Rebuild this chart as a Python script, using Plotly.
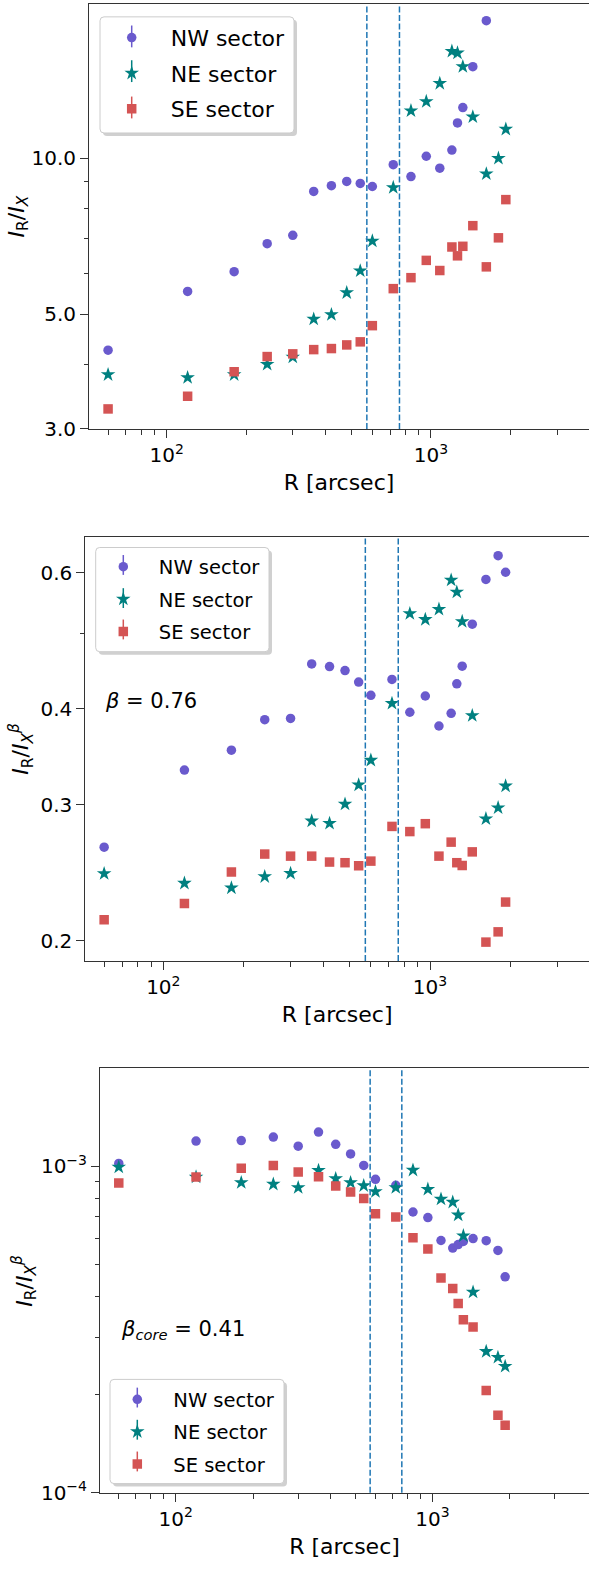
import plotly.graph_objects as go

W, H = 589, 1573

# ---------------- data ----------------
R = [60, 120, 180, 240, 300, 360, 420, 480, 540, 600, 720, 840, 960, 1080,
     1200, 1260, 1320, 1440, 1620, 1800, 1920]

# Panel 1: I_R / I_X
p1_NW = [4.26, 5.53, 6.04, 6.84, 7.10, 8.63, 8.85, 9.02, 8.94, 8.82, 9.72, 9.22,
         10.09, 9.57, 10.37, 11.70, 12.53, 15.03, 18.44, None, None]
p1_NE = [3.82, 3.77, 3.82, 4.00, 4.13, 4.89, 4.99, 5.50, 6.06, 6.92, 8.78, 12.35,
         12.87, 13.95, 16.09, 15.97, 15.03, 12.02, 9.33, 10.00, 11.38]
p1_SE = [3.28, 3.47, 3.87, 4.14, 4.19, 4.27, 4.29, 4.36, 4.42, 4.75, 5.60, 5.88,
         6.35, 6.07, 6.74, 6.48, 6.76, 7.41, 6.17, 7.02, 8.32]

# Panel 2: I_R / I_X^beta, beta = 0.76
p2_NW = [0.2645, 0.333, 0.3533, 0.387, 0.3885, 0.4572, 0.4535, 0.4482, 0.433, 0.4162,
         0.4364, 0.3957, 0.4154, 0.3798, 0.3945, 0.4308, 0.4541, 0.5148, 0.5883,
         0.6316, 0.6011]
p2_NE = [0.2444, 0.2375, 0.2342, 0.2422, 0.2446, 0.286, 0.284, 0.3008, 0.3185, 0.3429,
         0.4064, 0.5313, 0.522, 0.5382, 0.5871, 0.5665, 0.5188, 0.3918, 0.2879,
         0.2975, 0.3175]
p2_SE = [0.213, 0.2236, 0.2456, 0.2591, 0.2575, 0.2575, 0.253, 0.2525, 0.2502, 0.2537,
         0.2814, 0.2771, 0.2837, 0.2575, 0.2685, 0.2525, 0.2504, 0.2608, 0.1992,
         0.2054, 0.2245]

# Panel 3: I_R / I_X^beta_core, beta_core = 0.41
p3_NW = [1.021e-3, 1.196e-3, 1.200e-3, 1.230e-3, 1.153e-3, 1.274e-3, 1.169e-3,
         1.092e-3, 1.007e-3, 0.913e-3, 0.875e-3, 0.725e-3, 0.697e-3, 0.593e-3,
         0.562e-3, 0.576e-3, 0.589e-3, 0.601e-3, 0.592e-3, 0.553e-3, 0.459e-3]
p3_NE = [0.995e-3, 0.928e-3, 0.892e-3, 0.882e-3, 0.861e-3, 0.972e-3, 0.917e-3,
         0.892e-3, 0.873e-3, 0.837e-3, 0.861e-3, 0.974e-3, 0.851e-3, 0.794e-3,
         0.777e-3, 0.710e-3, 0.613e-3, 0.412e-3, 0.271e-3, 0.260e-3, 0.244e-3]
p3_SE = [0.890e-3, 0.928e-3, 0.988e-3, 1.007e-3, 0.961e-3, 0.930e-3, 0.871e-3,
         0.835e-3, 0.797e-3, 0.716e-3, 0.700e-3, 0.605e-3, 0.558e-3, 0.455e-3,
         0.423e-3, 0.380e-3, 0.339e-3, 0.322e-3, 0.206e-3, 0.173e-3, 0.161e-3]

R_lines = [572, 760]

series_names = ["NW sector", "NE sector", "SE sector"]
series_colors = ["#6a5acd", "#008080", "#d45454"]
series_symbols = ["circle", "star", "square"]
series_sizes = [9.5, 11, 9.5]

x_major = [100, 1000]
x_major_text = ["10<sup>2</sup>", "10<sup>3</sup>"]
x_minor = [60, 70, 80, 90, 200, 300, 400, 500, 600, 700, 800, 900, 2000, 3000]

p1_yticks = [3, 5, 10]
p1_ytext = ["3.0", "5.0", "10.0"]
p1_yminor = [4, 6, 7, 8, 9]
p2_yticks = [0.2, 0.3, 0.4, 0.6]
p2_ytext = ["0.2", "0.3", "0.4", "0.6"]
p2_yminor = [0.5]
p3_yticks = [1e-4, 1e-3]
p3_ytext = ["10<sup>\u22124</sup>", "10<sup>\u22123</sup>"]
p3_yminor = [2e-4, 3e-4, 4e-4, 5e-4, 6e-4, 7e-4, 8e-4, 9e-4]

FONT = "DejaVu Sans"

# panel geometry in pixels
panels = [
    dict(left=89.0, top=4.0, bottom=432.3, xr=[1.706, 3.598], yr=[0.4771, 1.298],
         data=[p1_NW, p1_NE, p1_SE], yt=p1_yticks, ytt=p1_ytext, ym=p1_yminor,
         ytitle="<i>I</i><sub>R</sub>/<i>I<sub>X</sub></i>", ytx=18,
         box=(100, 17, 294, 134), lfs=22, iw=68, gap=4, mk=131.7,
         items=[36.7, 71.7, 108.3], eh=11),
    dict(left=85.3, top=540.7, bottom=968.3, xr=[1.7075, 3.596], yr=[-0.7251, -0.1748],
         data=[p2_NW, p2_NE, p2_SE], yt=p2_yticks, ytt=p2_ytext, ym=p2_yminor,
         ytitle="<i>I</i><sub>R</sub>/<i>I<sub>X</sub><sup>\u03b2</sup></i>", ytx=21,
         box=(95.7, 551.7, 269, 656.7), lfs=19.5, iw=61, gap=4, mk=123.3,
         items=[569.3, 602.7, 634.3], eh=10),
    dict(left=100.0, top=1076.7, bottom=1504.3, xr=[1.705, 3.61], yr=[-4.0, -2.70],
         data=[p3_NW, p3_NE, p3_SE], yt=p3_yticks, ytt=p3_ytext, ym=p3_yminor,
         ytitle="<i>I</i><sub>R</sub>/<i>I<sub>X</sub><sup>\u03b2</sup></i>", ytx=24,
         box=(110, 1390, 284, 1495), lfs=19.5, iw=62, gap=4, mk=137.3,
         items=[1408.3, 1440.7, 1472.7], eh=10),
]


def px(x):
    return x / W


def py(y):
    return 1 - y / H


def rounded_rect(x0, y0, x1, y1, r):
    pts = [
        f"M{px(x0 + r)},{py(y0)}",
        f"L{px(x1 - r)},{py(y0)}",
        f"Q{px(x1)},{py(y0)} {px(x1)},{py(y0 + r)}",
        f"L{px(x1)},{py(y1 - r)}",
        f"Q{px(x1)},{py(y1)} {px(x1 - r)},{py(y1)}",
        f"L{px(x0 + r)},{py(y1)}",
        f"Q{px(x0)},{py(y1)} {px(x0)},{py(y1 - r)}",
        f"L{px(x0)},{py(y0 + r)}",
        f"Q{px(x0)},{py(y0)} {px(x0 + r)},{py(y0)}",
        "Z",
    ]
    return " ".join(pts)


fig = go.Figure()
layout = dict(
    width=W, height=H, margin=dict(l=0, r=0, t=0, b=0),
    paper_bgcolor="white", plot_bgcolor="white",
    font=dict(family=FONT, size=20, color="black"),
    shapes=[], annotations=[],
)

for i, p in enumerate(panels):
    k = "" if i == 0 else str(i + 1)
    xa, ya = "x" + k, "y" + k
    leg = "legend" + k
    for j in range(3):
        fig.add_trace(go.Scatter(
            x=R, y=p["data"][j], mode="markers", name=series_names[j],
            xaxis=xa, yaxis=ya, legend=leg, legendgroup=f"{leg}_{j}",
            marker=dict(symbol=series_symbols[j], size=series_sizes[j],
                        color=series_colors[j], line=dict(width=0)),
        ))
    layout["xaxis" + k] = dict(
        type="log", range=p["xr"], domain=[p["left"] / W, 1.0], anchor=ya,
        showline=True, linecolor="#333", linewidth=1, mirror=True,
        showgrid=False, zeroline=False,
        tickmode="array", tickvals=x_major, ticktext=x_major_text,
        ticks="outside", ticklen=8, tickwidth=1, tickcolor="#333",
        tickfont=dict(size=20, family=FONT),
        minor=dict(tickmode="array", tickvals=x_minor, ticks="outside",
                   ticklen=5, tickwidth=1, tickcolor="#333", showgrid=False),
        title=dict(text="R [arcsec]", font=dict(size=22, family=FONT), standoff=8),
    )
    layout["yaxis" + k] = dict(
        type="log", range=p["yr"],
        domain=[1 - p["bottom"] / H, 1 - p["top"] / H], anchor=xa,
        showline=True, linecolor="#333", linewidth=1, mirror=False,
        showgrid=False, zeroline=False,
        tickmode="array", tickvals=p["yt"], ticktext=p["ytt"],
        ticks="outside", ticklen=8, tickwidth=1, tickcolor="#333",
        tickfont=dict(size=20, family=FONT),
        minor=dict(tickmode="array", tickvals=p["ym"], ticks="outside",
                   ticklen=4, tickwidth=1, tickcolor="#333", showgrid=False),
    )
    # y-axis title
    layout["annotations"].append(dict(
        text=p["ytitle"], xref="paper", yref="paper",
        x=px(p["ytx"]), y=py((p["top"] + p["bottom"]) / 2),
        xanchor="center", yanchor="middle", textangle=-90, showarrow=False,
        font=dict(size=22, family=FONT)))

    bx0, by0, bx1, by1 = p["box"]
    # legend shadow + box (matplotlib style, rounded, with drop shadow)
    layout["shapes"].append(dict(
        type="path", xref="paper", yref="paper", layer="above",
        path=rounded_rect(bx0 + 3, by0 + 3, bx1 + 3, by1 + 3, 4),
        fillcolor="rgba(120,120,120,0.35)", line=dict(width=0)))
    layout["shapes"].append(dict(
        type="path", xref="paper", yref="paper", layer="above",
        path=rounded_rect(bx0, by0, bx1, by1, 4),
        fillcolor="white", line=dict(color="#cccccc", width=1)))
    # error-bar strokes through the legend symbols
    for j, yy in enumerate(p["items"]):
        layout["shapes"].append(dict(
            type="line", xref="paper", yref="paper", layer="above",
            x0=px(p["mk"]), x1=px(p["mk"]), y0=py(yy - p["eh"]), y1=py(yy + p["eh"]),
            line=dict(color=series_colors[j], width=1.5)))

    lfs = p["lfs"]
    iw = p["iw"]
    # plotly places the symbol centre at 5 + itemwidth/2 and the text at itemwidth + 10
    layout[leg] = dict(
        x=px(p["mk"] - 5 - iw / 2), y=py(p["items"][0] - 0.9 * lfs),
        xanchor="left", yanchor="top",
        bgcolor="rgba(0,0,0,0)", borderwidth=0,
        font=dict(size=lfs, family=FONT), itemwidth=iw, tracegroupgap=p["gap"],
    )
    for rv in R_lines:
        layout["shapes"].append(dict(
            type="line", xref=xa, yref=ya + " domain", x0=rv, x1=rv, y0=0, y1=1,
            line=dict(color="#1f77b4", width=1.5, dash="6px,2.5px"),
        ))

layout["annotations"].append(dict(
    text="<i>\u03b2</i> = 0.76", xref="paper", yref="paper",
    x=px(103), y=py(706.7), xanchor="left", yanchor="middle",
    showarrow=False, font=dict(size=21, family=FONT)))
layout["annotations"].append(dict(
    text="<i>\u03b2<sub>core</sub></i> = 0.41", xref="paper", yref="paper",
    x=px(119), y=py(1340), xanchor="left", yanchor="middle",
    showarrow=False, font=dict(size=21, family=FONT)))

fig.update_layout(**layout)
fig.write_html("out.html")
